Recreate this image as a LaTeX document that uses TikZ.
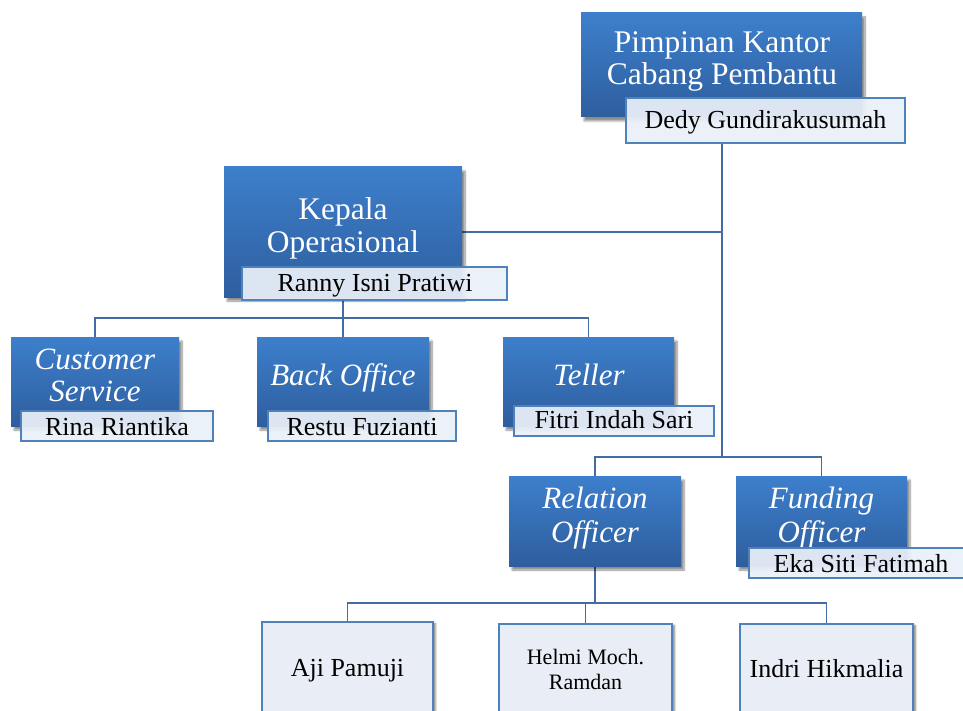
\documentclass[tikz,border=0pt]{standalone}
\usepackage{fontspec}
\setmainfont{Liberation Serif}
\usetikzlibrary{shadows.blur,backgrounds}
\definecolor{bluetop}{RGB}{61,127,204}
\definecolor{bluebot}{RGB}{46,94,158}
\definecolor{namefill}{RGB}{234,240,248}
\definecolor{nameborder}{RGB}{79,129,189}
\definecolor{conncol}{RGB}{66,108,163}
\definecolor{leaffill}{RGB}{233,238,246}
\begin{document}
\begin{tikzpicture}[x=1pt,y=-1pt,
  titlebox/.style={rectangle, inner sep=0pt, top color=bluetop, bottom color=bluebot, draw=none,
    blur shadow={shadow xshift=3pt, shadow yshift=-4pt, shadow blur steps=8, shadow opacity=45}},
  namebox/.style={rectangle, inner sep=0pt, fill=namefill, fill opacity=0.93, draw=nameborder, line width=1.4pt},
  leafbox/.style={rectangle, inner sep=0pt, fill=leaffill, draw=nameborder, line width=1.4pt,
    blur shadow={shadow xshift=2.5pt, shadow yshift=-1.5pt, shadow blur steps=4, shadow opacity=50}},
  titletxt/.style={text=white, font=\fontsize{31.5}{31.5}\selectfont, inner sep=0pt, anchor=base},
  ittxt/.style={text=white, font=\fontsize{31}{31}\selectfont\itshape, inner sep=0pt, anchor=base},
  nametxt/.style={text=black, font=\fontsize{26}{26}\selectfont, inner sep=0pt, anchor=base},
  smalltxt/.style={text=black, font=\fontsize{22}{22}\selectfont, inner sep=0pt, anchor=base},
  conn/.style={draw=conncol, line width=1.5pt}
]
\useasboundingbox (0,0) rectangle (963,711);

% top
\node[titlebox, minimum width=281pt, minimum height=104pt] (pim) at (721.5,65) {};
\node[titletxt] (pimA) at (722,53) {Pimpinan Kantor};
\node[titletxt] (pimB) at (722,85) {Cabang Pembantu};
\node[namebox, minimum width=279pt, minimum height=45pt] (dedy) at (765.5,120.5) {};
\node[nametxt] (dedyT) at (765.5,129) {Dedy Gundirakusumah};

% Kepala
\node[titlebox, minimum width=238pt, minimum height=130pt] (kepala) at (343,232) {};
\node[titletxt] (kepA) at (343,220) {Kepala};
\node[titletxt] (kepB) at (343,253) {Operasional};
\node[namebox, minimum width=265pt, minimum height=33pt] (ranny) at (374.5,283.5) {};
\node[nametxt] (rannyT) at (375,291) {Ranny Isni Pratiwi};

% Customer service
\node[titlebox, minimum width=168pt, minimum height=89pt] (cs) at (95,381.5) {};
\node[ittxt] (csA) at (95,369) {Customer};
\node[ittxt] (csB) at (95,401) {Service};
\node[namebox, minimum width=192pt, minimum height=30pt] (rina) at (117,426) {};
\node[nametxt] (rinaT) at (117,435) {Rina Riantika};

% Back office
\node[titlebox, minimum width=172pt, minimum height=89pt] (bo) at (343,381.5) {};
\node[ittxt] (boA) at (343,385) {Back Office};
\node[namebox, minimum width=188pt, minimum height=30pt] (restu) at (362,426) {};
\node[nametxt] (restuT) at (362,435) {Restu Fuzianti};

% Teller
\node[titlebox, minimum width=171pt, minimum height=89pt] (teller) at (588.5,381.5) {};
\node[ittxt] (tellerA) at (589,385) {Teller};
\node[namebox, minimum width=200pt, minimum height=30pt] (fitri) at (614,421) {};
\node[nametxt] (fitriT) at (614,428) {Fitri Indah Sari};

% Relation officer
\node[titlebox, minimum width=172pt, minimum height=90pt] (ro) at (595,521) {};
\node[ittxt] (roA) at (595,508) {Relation};
\node[ittxt] (roB) at (595,542) {Officer};

% Funding officer
\node[titlebox, minimum width=171pt, minimum height=90pt] (fo) at (821.5,521) {};
\node[ittxt] (foA) at (821.5,508) {Funding};
\node[ittxt] (foB) at (821.5,542) {Officer};
\node[namebox, minimum width=224pt, minimum height=30pt] (eka) at (861,563) {};
\node[nametxt] (ekaT) at (861,572) {Eka Siti Fatimah};

% leaves
\node[leafbox, minimum width=171pt, minimum height=92pt] (aji) at (347.5,668) {};
\node[nametxt] (ajiT) at (347.5,676) {Aji Pamuji};
\node[leafbox, minimum width=173pt, minimum height=92pt] (helmi) at (585.5,670) {};
\node[smalltxt] (helmiA) at (585.5,664) {Helmi Moch.};
\node[smalltxt] (helmiB) at (585.5,689) {Ramdan};
\node[leafbox, minimum width=173pt, minimum height=92pt] (indri) at (826.5,670) {};
\node[nametxt] (indriT) at (826.5,677) {Indri Hikmalia};

\begin{pgfonlayer}{background}
\coordinate (trunktop) at (722,143);
\coordinate (trunkbot) at (722,457);
\coordinate (opsbus) at (343,318);
\coordinate (robus) at (595,603);
\draw[conn] (trunktop) -- (trunkbot);
\draw[conn] (kepala.east) -- (kepala.east -| trunktop);
\draw[conn] (ro.north) |- (trunkbot) -| (fo.north);
\draw[conn] (kepala.south) -- (opsbus);
\draw[conn] (cs.north) |- (opsbus) -| (teller.north);
\draw[conn] (bo.north) -- (opsbus);
\draw[conn] (ro.south) -- (robus);
\draw[conn] (aji.north) |- (robus) -| (indri.north);
\draw[conn] (helmi.north) -- (helmi.north |- robus);
\end{pgfonlayer}
\end{tikzpicture}
\end{document}
